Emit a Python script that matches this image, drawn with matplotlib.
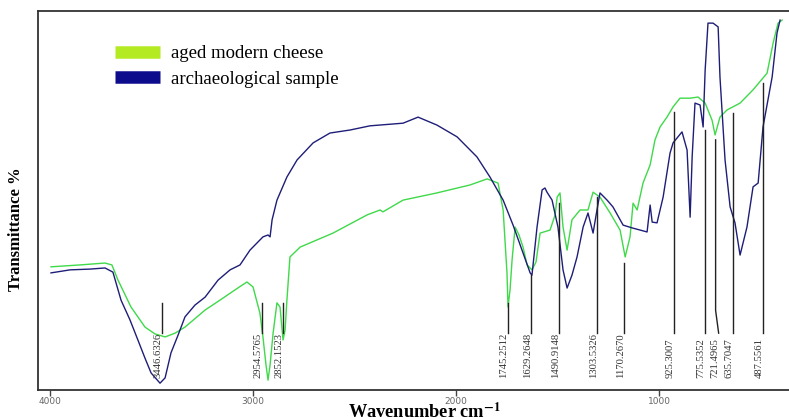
#!/usr/bin/env python3
#
# FTIR spectra: aged modern cheese vs archaeological sample
#
import matplotlib
matplotlib.use('Agg')
import matplotlib.pyplot as plt
from matplotlib.lines import Line2D

plt.rcParams['mathtext.fontset'] = 'stix'

# Archaeological sample (wavenumber, transmittance)
wn_arch = [3995, 3901, 3803, 3729, 3690, 3650, 3606, 3567, 3532, 3502,
           3458, 3433, 3404, 3369, 3335, 3286, 3236, 3172, 3113, 3064,
           3015, 2951, 2926, 2916, 2906, 2882, 2833, 2783, 2704, 2621,
           2522, 2424, 2261, 2187, 2094, 1995, 1897, 1833, 1768, 1719,
           1675, 1635, 1626, 1601, 1576, 1562, 1552, 1527, 1498, 1473,
           1453, 1429, 1404, 1374, 1350, 1325, 1310, 1291, 1256, 1227,
           1177, 1128, 1059, 1044, 1034, 1010, 980, 946, 931, 887,
           862, 847, 837, 823, 798, 783, 773, 759, 734, 709,
           700, 675, 650, 626, 601, 567, 537, 512, 488, 443,
           419, 404]
t_arch = [30.9, 31.7, 31.9, 32.2, 31.1, 23.7, 18.5, 13.2, 8.4, 4.5,
          1.8, 3.2, 9.8, 14.5, 19.3, 22.4, 24.5, 29.0, 31.7, 33.0,
          36.9, 40.4, 40.9, 40.4, 44.9, 50.1, 56.2, 60.7, 65.2, 67.8,
          68.6, 69.7, 70.4, 72.0, 69.9, 66.8, 61.5, 56.2, 50.1, 43.5,
          36.9, 30.9, 30.3, 43.0, 52.8, 53.3, 52.2, 50.1, 43.0, 31.7,
          26.9, 30.3, 35.1, 43.0, 46.7, 41.4, 46.2, 52.0, 50.1, 48.3,
          43.5, 42.7, 41.7, 48.8, 44.3, 44.1, 50.9, 62.5, 65.2, 68.1,
          63.3, 45.6, 61.5, 75.7, 75.2, 69.4, 84.4, 96.8, 96.8, 95.8,
          82.6, 60.7, 48.3, 44.1, 35.6, 43.0, 53.6, 54.6, 69.4, 82.6,
          94.2, 97.6]

# Aged modern cheese
wn_cheese = [3995, 3852, 3729, 3695, 3665, 3601, 3532, 3483, 3433, 3384,
             3335, 3236, 3163, 3089, 3030, 3000, 2966, 2951, 2936, 2926,
             2916, 2901, 2882, 2867, 2852, 2842, 2833, 2818, 2768, 2606,
             2438, 2374, 2360, 2261, 2094, 1931, 1847, 1793, 1768, 1759,
             1749, 1744, 1734, 1724, 1709, 1690, 1670, 1650, 1626, 1606,
             1586, 1537, 1512, 1502, 1488, 1473, 1453, 1429, 1389, 1350,
             1325, 1291, 1241, 1192, 1167, 1143, 1128, 1108, 1079, 1044,
             1020, 995, 961, 931, 897, 847, 808, 773, 739, 724,
             700, 665, 601, 537, 468, 438, 414, 394]
t_cheese = [32.5, 33.0, 33.5, 33.0, 29.0, 21.9, 16.6, 14.8, 14.0, 15.0,
            16.6, 21.1, 23.7, 26.4, 28.5, 27.2, 20.3, 14.0, 6.6, 2.6,
            6.6, 15.0, 23.0, 21.9, 13.2, 15.8, 23.7, 35.1, 37.7, 41.4,
            46.2, 47.5, 47.0, 50.1, 52.0, 54.1, 55.7, 54.6, 47.5, 39.6,
            30.9, 21.9, 26.4, 34.3, 43.0, 40.9, 37.7, 33.0, 31.7, 33.8,
            41.4, 42.2, 46.2, 50.9, 52.0, 43.0, 36.9, 44.9, 47.5, 47.5,
            52.2, 50.9, 46.7, 42.2, 35.1, 40.4, 49.3, 47.5, 54.6, 59.4,
            66.0, 69.4, 72.0, 74.7, 77.0, 77.0, 77.3, 75.7, 71.2, 67.3,
            72.0, 73.9, 75.7, 79.2, 83.6, 91.6, 96.8, 97.6]

# Marked peaks: position, label, top of the marker line
peak_wn = [3446.6326, 2954.5765, 2852.1523, 1745.2512, 1629.2648,
           1490.9148, 1303.5326, 1170.2670, 925.3007, 775.5352,
           721.4965, 635.7047, 487.5561]
peak_labels = ['3446.6326', '2954.5765', '2852.1523', '1745.2512',
               '1629.2648', '1490.9148', '1303.5326', '1170.2670',
               '925.3007', '775.5352', '721.4965', '635.7047', '487.5561']
peak_top = [23.0, 23.0, 23.0, 23.0, 30.3, 49.3, 50.9, 33.5,
            73.4, 68.6, 66.0, 73.1, 81.0]

c_cheese = '#3fd94a'
c_arch = '#1e1e78'

fig = plt.figure(figsize=(7.89, 4.18), dpi=100)
ax = fig.add_axes([38 / 789, 1 - 390 / 418, 1 - 38 / 789, 379 / 418])

ax.plot(wn_cheese, t_cheese, color=c_cheese, lw=1.0, zorder=2)
ax.plot(wn_arch, t_arch, color=c_arch, lw=1.0, zorder=3)

# Peak marker lines and labels (labels sit on a common baseline)
line_bot = 15.0
lab_base = 3.2
lab_font = dict(family='Liberation Serif', size=7.7, color='#333333')
for w, lab, top in zip(peak_wn, peak_labels, peak_top):
    if lab == '721.4965':
        # this one bends sideways at the bottom
        ax.plot([w, w, w - 15], [top, 21.0, line_bot], color='#222222',
                lw=1.0, zorder=4)
        w = w - 15
    else:
        ax.plot([w, w], [top, line_bot], color='#222222', lw=1.0, zorder=4)
    ax.text(w - 3, lab_base, lab, rotation=90, ha='right', va='bottom',
            zorder=5, **lab_font)

ax.set_xlim(4059, 360)
ax.set_ylim(0, 100)
ax.set_xticks([4000, 3000, 2000, 1000])
ax.set_yticks([])
ax.tick_params(axis='x', direction='out', length=4, width=1,
               color='#444444', labelsize=6.5, labelcolor='#666666', pad=1)
for s in ['top', 'left', 'bottom']:
    ax.spines[s].set_color('#333333')
    ax.spines[s].set_linewidth(1.3)
ax.spines['right'].set_visible(False)

# Legend
handles = [
    Line2D([0], [0], color='#b4ea22', lw=9, solid_capstyle='butt',
           label='aged modern cheese'),
    Line2D([0], [0], color='#0c0c8c', lw=9, solid_capstyle='butt',
           label='archaeological sample'),
]
ax.legend(handles=handles, loc='upper left', frameon=False,
          bbox_to_anchor=(115 / 789, 1 - 45 / 418),
          bbox_transform=fig.transFigure, borderpad=0, borderaxespad=0,
          handlelength=2.4, handletextpad=0.6, labelspacing=0.45,
          prop=dict(family='Liberation Serif', size=13.5))

fig.text(16 / 789, 1 - 229 / 418, 'Transmittance %', rotation=90,
         ha='center', va='center', family='Liberation Serif',
         weight='bold', size=12)
fig.text(424 / 789, 0.0, r'Wavenumber cm$^{\mathbf{-1}}$',
         ha='center', va='baseline', family='Liberation Serif',
         weight='bold', size=13.2)

fig.savefig('out.png', dpi=100)
